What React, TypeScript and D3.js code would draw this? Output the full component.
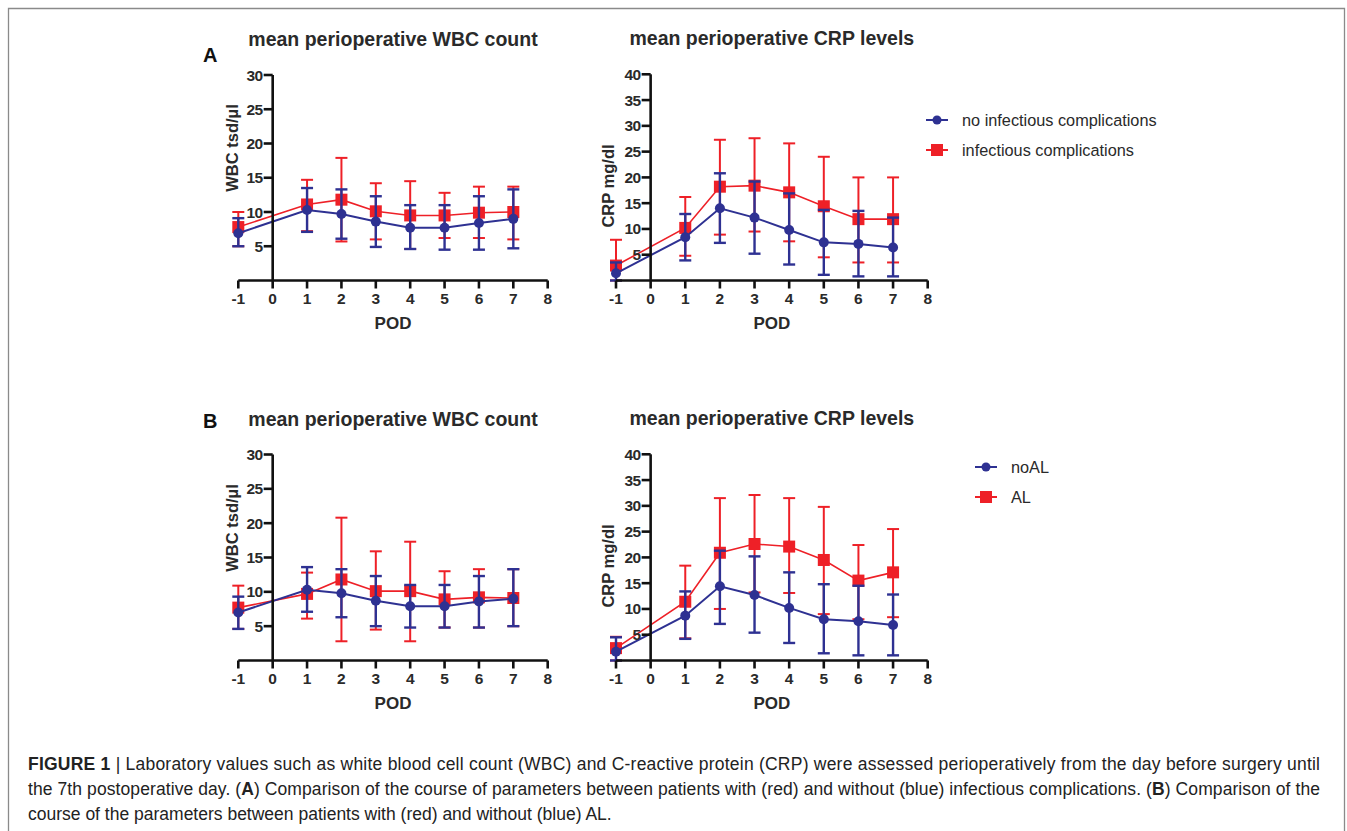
import React from 'react';
import * as d3 from 'd3';

// POD days with measurements (no value on day 0)
const pod = [-1, 1, 2, 3, 4, 5, 6, 7];
const xTicks = [-1, 0, 1, 2, 3, 4, 5, 6, 7, 8];
const wbcTicks = [5, 10, 15, 20, 25, 30];
const crpTicks = [5, 10, 15, 20, 25, 30, 35, 40];

// A: WBC, no infectious complications / infectious complications
const wbcANoMean = [6.9, 10.3, 9.7, 8.6, 7.7, 7.7, 8.4, 9.0];
const wbcANoHi = [9.1, 13.5, 13.3, 12.3, 11.0, 11.0, 12.3, 13.3];
const wbcANoLo = [5.0, 7.1, 6.1, 4.9, 4.6, 4.5, 4.5, 4.7];
const wbcAInfMean = [7.8, 11.1, 11.8, 10.1, 9.5, 9.5, 9.9, 10.0];
const wbcAInfHi = [10.0, 14.7, 17.9, 14.2, 14.5, 12.8, 13.7, 13.7];
const wbcAInfLo = [5.0, 7.2, 5.7, 6.0, 4.6, 6.2, 6.2, 6.0];

// A: CRP
const crpANoMean = [1.4, 8.4, 14.0, 12.2, 9.8, 7.4, 7.1, 6.4];
const crpANoHi = [3.5, 12.9, 20.8, 19.2, 16.9, 13.7, 13.5, 12.2];
const crpANoLo = [0, 3.9, 7.3, 5.2, 3.1, 1.1, 0.8, 0.8];
const crpAInfMean = [2.9, 10.2, 18.2, 18.4, 17.1, 14.4, 11.9, 11.9];
const crpAInfHi = [7.9, 16.2, 27.3, 27.6, 26.6, 24.0, 20.0, 20.0];
const crpAInfLo = [0, 4.8, 8.9, 9.5, 7.6, 4.5, 3.5, 3.5];

// B: WBC, no AL / AL
const wbcBNoMean = [7.0, 10.3, 9.8, 8.7, 7.9, 7.9, 8.6, 9.0];
const wbcBNoHi = [9.3, 13.6, 13.3, 12.3, 11.0, 11.0, 12.3, 13.3];
const wbcBNoLo = [4.6, 7.1, 6.3, 5.0, 4.8, 4.8, 4.8, 5.0];
const wbcBALMean = [7.7, 9.7, 11.8, 10.1, 10.1, 8.9, 9.2, 9.1];
const wbcBALHi = [10.9, 12.8, 20.8, 15.9, 17.3, 13.0, 13.3, 13.3];
const wbcBALLo = [4.6, 6.1, 2.8, 4.5, 2.8, 4.8, 4.8, 5.0];

// B: CRP
const crpBNoMean = [1.7, 8.7, 14.4, 12.7, 10.2, 8.0, 7.6, 6.9];
const crpBNoHi = [4.5, 13.4, 21.3, 20.2, 17.1, 14.8, 14.5, 12.8];
const crpBNoLo = [0, 4.2, 7.1, 5.4, 3.4, 1.4, 1.0, 1.0];
const crpBALMean = [2.4, 11.4, 20.9, 22.6, 22.1, 19.5, 15.5, 17.1];
const crpBALHi = [4.6, 18.4, 31.5, 32.1, 31.5, 29.8, 22.4, 25.5];
const crpBALLo = [0, 4.3, 10.0, 13.2, 13.1, 9.0, 8.0, 8.4];

const BLUE = '#2e3192';
const RED = '#ee2027';
const INK = '#2a2a2a';
const FONT = '"Liberation Sans", Arial, sans-serif';

type Series = { mean: number[]; hi: number[]; lo: number[] };

type PanelProps = {
  x0: number;
  x1: number;
  yBase: number;
  yTop: number;
  yMax: number;
  yTicks: number[];
  title: string;
  yLabel: string;
  yLabelY: number;
  yLabelX: number;
  red: Series;
  blue: Series;
};

const Panel = (props: PanelProps) => {
  const { x0, x1, yBase, yTop, yMax, yTicks, title, yLabel, yLabelY, yLabelX, red, blue } = props;
  const x = d3.scaleLinear().domain([-1, 8]).range([x0, x1]);
  const y = d3.scaleLinear().domain([0, yMax]).range([yBase, yTop]);
  const line = d3
    .line<number>()
    .x((_, i) => x(pod[i]))
    .y(d => y(d));

  const bars = (s: Series, color: string, w: number) =>
    pod.map((p, i) => (
      <g key={p} stroke={color} strokeWidth={w}>
        <line x1={x(p)} x2={x(p)} y1={y(s.lo[i])} y2={y(s.hi[i])} />
        <line x1={x(p) - 6} x2={x(p) + 6} y1={y(s.hi[i])} y2={y(s.hi[i])} />
        <line x1={x(p) - 6} x2={x(p) + 6} y1={y(s.lo[i])} y2={y(s.lo[i])} />
      </g>
    ));

  return (
    <g>
      <text x={(x(-1) + x(8)) / 2} y={yTop - 29} textAnchor="middle" fontFamily={FONT} fontWeight="bold" fontSize={19.5} fill={INK}>
        {title}
      </text>
      <text
        transform={`translate(${yLabelX},${yLabelY}) rotate(-90)`}
        textAnchor="middle"
        fontFamily={FONT}
        fontWeight="bold"
        fontSize={16.5}
        fill={INK}
      >
        {yLabel}
      </text>
      <text x={(x(-1) + x(8)) / 2} y={yBase + 48} textAnchor="middle" fontFamily={FONT} fontWeight="bold" fontSize={17} fill={INK}>
        POD
      </text>

      {/* red series under blue */}
      {bars(red, RED, 2)}
      <path d={line(red.mean) || ''} fill="none" stroke={RED} strokeWidth={1.6} />
      {pod.map((p, i) => (
        <rect key={p} x={x(p) - 6} y={y(red.mean[i]) - 6} width={12} height={12} fill={RED} />
      ))}

      {bars(blue, BLUE, 2.4)}
      <path d={line(blue.mean) || ''} fill="none" stroke={BLUE} strokeWidth={2} />
      {pod.map((p, i) => (
        <circle key={p} cx={x(p)} cy={y(blue.mean[i])} r={5} fill={BLUE} />
      ))}

      {/* axes */}
      <g stroke="#111" strokeWidth={2.6} fill="none">
        <line x1={x(-1)} x2={x(8)} y1={yBase} y2={yBase} />
        <line x1={x(0)} x2={x(0)} y1={yBase} y2={y(yMax)} />
        {xTicks.map(t => (
          <line key={t} x1={x(t)} x2={x(t)} y1={yBase} y2={yBase + 8} />
        ))}
        {yTicks.map(t => (
          <line key={t} x1={x(0) - 9} x2={x(0)} y1={y(t)} y2={y(t)} />
        ))}
      </g>
      {xTicks.map(t => (
        <text key={t} x={x(t)} y={yBase + 23} textAnchor="middle" fontFamily={FONT} fontWeight="bold" fontSize={15.5} fill={INK}>
          {t}
        </text>
      ))}
      {yTicks.map(t => (
        <text key={t} x={x(0) - 10} y={y(t) + 5.5} textAnchor="end" fontFamily={FONT} fontWeight="bold" fontSize={15.5} fill={INK} letterSpacing={-0.5}>
          {t}
        </text>
      ))}
    </g>
  );
};

const Legend = ({ x, y, labels }: { x: number; y: number; labels: string[] }) => (
  <g fontFamily={FONT} fontSize={16.3} fill={INK}>
    <line x1={x} x2={x + 22} y1={y} y2={y} stroke={BLUE} strokeWidth={2} />
    <circle cx={x + 11} cy={y} r={4.5} fill={BLUE} />
    <text x={x + 36} y={y + 5.5}>{labels[0]}</text>
    <line x1={x} x2={x + 22} y1={y + 30} y2={y + 30} stroke={RED} strokeWidth={2} />
    <rect x={x + 5} y={y + 24} width={12} height={12} fill={RED} />
    <text x={x + 36} y={y + 35.5}>{labels[1]}</text>
  </g>
);

const captionLines = [
  'Laboratory values such as white blood cell count (WBC) and C-reactive protein (CRP) were assessed perioperatively from the day before surgery until',
  'the 7th postoperative day. (',
  ') Comparison of the course of parameters between patients with (red) and without (blue) infectious complications. (',
  ') Comparison of the',
  'course of the parameters between patients with (red) and without (blue) AL.'
];

export default function App() {
  return (
    <svg width={1347} height={831} style={{ position: 'absolute', left: 0, top: 0, background: '#fff' }}>
      <rect x={0} y={0} width={1347} height={831} fill="#fff" />
      <path d="M8.5,831 V8.5 H1344.5 V831" fill="none" stroke="#8a8a8a" strokeWidth={1.3} />

      <text x={203} y={62} fontFamily={FONT} fontWeight="bold" fontSize={20} fill="#111">A</text>
      <text x={203} y={428} fontFamily={FONT} fontWeight="bold" fontSize={20} fill="#111">B</text>

      <Panel
        x0={238.3} x1={547.7} yBase={280.5} yTop={75} yMax={30} yTicks={wbcTicks}
        title="mean perioperative WBC count" yLabel="WBC tsd/µl" yLabelX={238} yLabelY={148}
        red={{ mean: wbcAInfMean, hi: wbcAInfHi, lo: wbcAInfLo }}
        blue={{ mean: wbcANoMean, hi: wbcANoHi, lo: wbcANoLo }}
      />
      <Panel
        x0={616} x1={927.7} yBase={280.5} yTop={74.3} yMax={40} yTicks={crpTicks}
        title="mean perioperative CRP levels" yLabel="CRP mg/dl" yLabelX={614} yLabelY={186}
        red={{ mean: crpAInfMean, hi: crpAInfHi, lo: crpAInfLo }}
        blue={{ mean: crpANoMean, hi: crpANoHi, lo: crpANoLo }}
      />
      <Legend x={926} y={120} labels={['no infectious complications', 'infectious complications']} />

      <Panel
        x0={238.3} x1={547.7} yBase={660.5} yTop={454.5} yMax={30} yTicks={wbcTicks}
        title="mean perioperative WBC count" yLabel="WBC tsd/µl" yLabelX={238} yLabelY={528}
        red={{ mean: wbcBALMean, hi: wbcBALHi, lo: wbcBALLo }}
        blue={{ mean: wbcBNoMean, hi: wbcBNoHi, lo: wbcBNoLo }}
      />
      <Panel
        x0={616} x1={927.7} yBase={660.5} yTop={454.3} yMax={40} yTicks={crpTicks}
        title="mean perioperative CRP levels" yLabel="CRP mg/dl" yLabelX={614} yLabelY={566}
        red={{ mean: crpBALMean, hi: crpBALHi, lo: crpBALLo }}
        blue={{ mean: crpBNoMean, hi: crpBNoHi, lo: crpBNoLo }}
      />
      <Legend x={975} y={467} labels={['noAL', 'AL']} />

      <g fontFamily={FONT} fontSize={17.5} fill="#222">
        <text x={28} y={770} textLength={1292} lengthAdjust="spacing">
          <tspan fontWeight="bold">FIGURE 1</tspan> | {captionLines[0]}
        </text>
        <text x={28} y={795} textLength={1292} lengthAdjust="spacing">
          {captionLines[1]}<tspan fontWeight="bold">A</tspan>{captionLines[2]}<tspan fontWeight="bold">B</tspan>{captionLines[3]}
        </text>
        <text x={28} y={820}>{captionLines[4]}</text>
      </g>
    </svg>
  );
}
